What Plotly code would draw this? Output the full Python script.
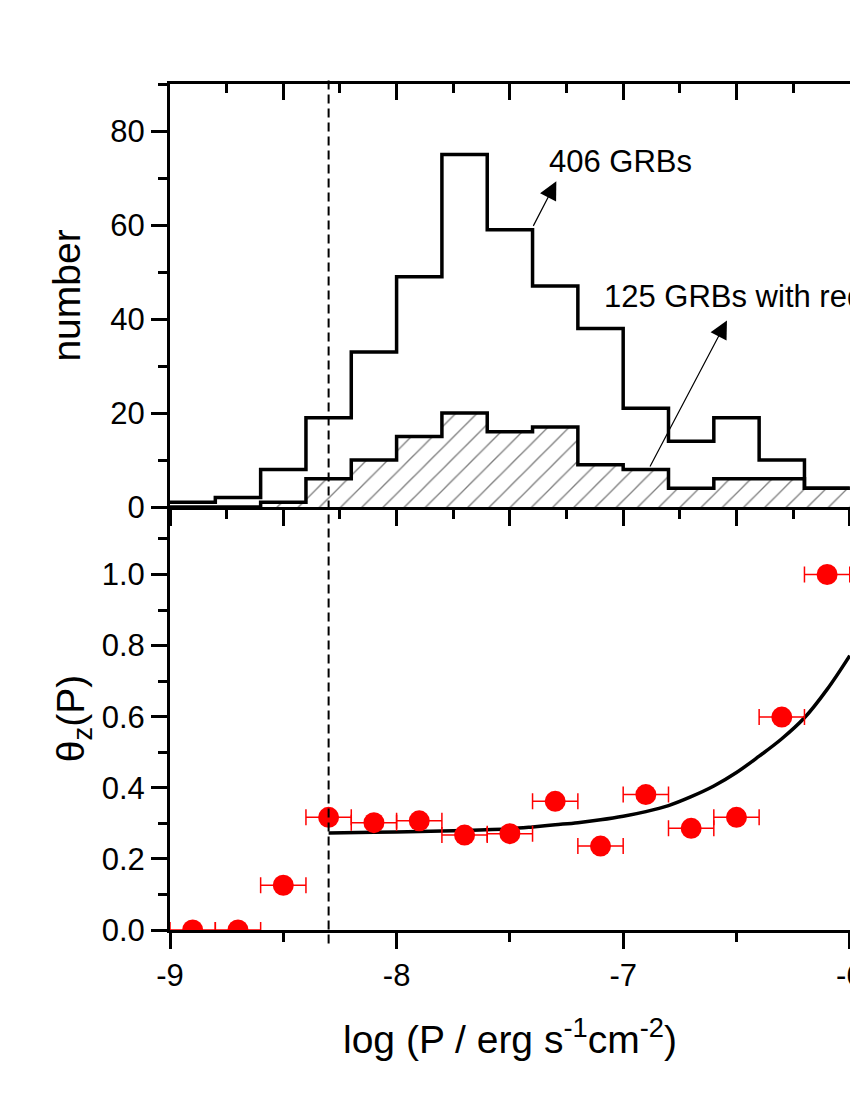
import plotly.graph_objects as go

# histogram of log peak flux, bins of 0.2 dex (left edges)
bin_left = [-9.0, -8.8, -8.6, -8.4, -8.2, -8.0, -7.8, -7.6, -7.4, -7.2, -7.0, -6.8, -6.6, -6.4, -6.2]
bin_last_edge = -6.0
n_all = [1, 2, 8, 19, 33, 49, 75, 59, 47, 38, 21, 14, 19, 10, 4]      # 406 GRBs
n_redshift = [0, 0, 1, 6, 10, 15, 20, 16, 17, 9, 8, 4, 6, 6, 4]      # 125 GRBs with redshift

# theta_z(P) points
theta_x = [-8.9, -8.7, -8.5, -8.3, -8.1, -7.9, -7.7, -7.5, -7.3, -7.1, -6.9, -6.7, -6.5, -6.3, -6.1]
theta_y = [0.0, 0.0, 0.126, 0.317, 0.302, 0.307, 0.267, 0.271, 0.362, 0.236, 0.381, 0.286, 0.317, 0.599, 1.0]
theta_xerr = 0.1

# fitted curve
fit_x = [-8.3, -8.1, -7.9, -7.7, -7.5, -7.4, -7.3, -7.2, -7.1, -7.0, -6.9, -6.8, -6.7,
         -6.6, -6.5, -6.4, -6.3, -6.2, -6.1, -6.0]
fit_y = [0.273, 0.275, 0.277, 0.280, 0.285, 0.290, 0.296, 0.302, 0.310, 0.320, 0.333, 0.350, 0.375,
         0.405, 0.443, 0.489, 0.538, 0.597, 0.677, 0.772]

# bottom tick labels (plain hyphen like the original)
x_tickvals = [-9, -8, -7, -6]
x_ticktext = ["-9", "-8", "-7", "-6"]

p_cut = -8.3

FONT = "Liberation Sans, Arial, sans-serif"
tick_font = dict(family=FONT, size=31, color="black")
title_font = dict(family=FONT, size=39, color="black")

step_x = bin_left + [bin_last_edge]

fig = go.Figure()

# hatched histogram (with redshift)
fig.add_trace(go.Scatter(
    x=step_x, y=n_redshift + [n_redshift[-1]],
    mode="lines", line_shape="hv",
    line=dict(color="black", width=3.5),
    fill="tozeroy",
    fillpattern=dict(shape="/", fgcolor="black", bgcolor="white", size=15, solidity=0.09),
    xaxis="x", yaxis="y", hoverinfo="skip",
))

# all GRBs
fig.add_trace(go.Scatter(
    x=step_x, y=n_all + [n_all[-1]],
    mode="lines", line_shape="hv",
    line=dict(color="black", width=3.5),
    xaxis="x3", yaxis="y", hoverinfo="skip",
))

# fit curve
fig.add_trace(go.Scatter(
    x=fit_x, y=fit_y, mode="lines", line_shape="spline",
    line=dict(color="black", width=3.5),
    xaxis="x2", yaxis="y2",
))

# data points
fig.add_trace(go.Scatter(
    x=theta_x, y=theta_y, mode="markers",
    marker=dict(color="#ff0000", size=21, symbol="circle"),
    error_x=dict(type="constant", value=theta_xerr, color="#ff0000", thickness=1.5, width=8),
    xaxis="x2", yaxis="y2",
))

x_range = [-9, -5.999]
axis_common = dict(showgrid=False, zeroline=False, showline=True, linewidth=3, linecolor="black",
                   tickcolor="black", tickwidth=2.5, tickfont=tick_font, automargin=False)

fig.update_layout(
    width=850, height=1100,
    margin=dict(l=170, r=0, t=84, b=170, autoexpand=False),
    paper_bgcolor="white", plot_bgcolor="white",
    showlegend=False,
    xaxis=dict(axis_common, range=x_range, anchor="y", domain=[0, 1],
               ticks="outside", tick0=0, dtick=0.5, ticklen=16, showticklabels=False,
               minor=dict(ticks="outside", dtick=0.25, ticklen=9, tickwidth=2.5, tickcolor="black")),
    xaxis3=dict(axis_common, range=x_range, anchor="y", overlaying="x", side="top",
                ticks="inside", tick0=0, dtick=0.5, ticklen=16, showticklabels=False,
                minor=dict(ticks="inside", dtick=0.25, ticklen=9, tickwidth=2.5, tickcolor="black")),
    xaxis2=dict(axis_common, range=x_range, anchor="y2", domain=[0, 1],
                ticks="outside", tickvals=x_tickvals, ticktext=x_ticktext, ticklen=16,
                ticklabeloverflow="allow",
                minor=dict(ticks="outside", tick0=0, dtick=0.5, ticklen=9, tickwidth=2.5, tickcolor="black"),
                title=dict(text="log (P / erg s<sup>-1</sup>cm<sup>-2</sup>)", font=title_font, standoff=34)),
    yaxis=dict(axis_common, range=[0, 90], domain=[0.5, 1], anchor="x",
               ticks="outside", tick0=0, dtick=20, ticklen=16,
               minor=dict(ticks="outside", dtick=10, ticklen=9, tickwidth=2.5, tickcolor="black"),
               title=dict(text="number", font=title_font, standoff=18)),
    yaxis2=dict(axis_common, range=[0, 1.19], domain=[0, 0.5], anchor="x2",
                ticks="outside", tick0=0, dtick=0.2, tickformat=".1f", ticklen=16,
                minor=dict(ticks="outside", dtick=0.1, ticklen=9, tickwidth=2.5, tickcolor="black"),
                title=dict(text="θ<sub>z</sub>(P)", font=title_font, standoff=6)),
)

# flux cut
fig.add_shape(type="line", xref="x", yref="paper", x0=p_cut, x1=p_cut, y0=-0.016, y1=1.004,
              line=dict(color="black", width=2, dash="9px,5px"))

# labels with arrows
fig.add_annotation(x=-7.295, y=69.3, ax=-7.40, ay=59.5, xref="x", yref="y", axref="x", ayref="y",
                   text="", showarrow=True, arrowhead=2, arrowsize=3, arrowwidth=1.2, arrowcolor="black")
fig.add_annotation(x=-7.335, y=73.6, xref="x", yref="y", text="406 GRBs", showarrow=False,
                   xanchor="left", yanchor="middle", font=tick_font)
fig.add_annotation(x=-6.542, y=39.7, ax=-6.885, ay=8.3, xref="x", yref="y", axref="x", ayref="y",
                   text="", showarrow=True, arrowhead=2, arrowsize=3, arrowwidth=1.2, arrowcolor="black")
fig.add_annotation(x=-7.093, y=44.8, xref="x", yref="y", text="125 GRBs with redshift", showarrow=False,
                   xanchor="left", yanchor="middle", font=tick_font)

# drop the default body margin so the 850x1100 figure fills the window exactly
fig.write_html("out.html", config={"displayModeBar": False},
               post_script="document.body.style.margin='0';document.body.style.overflow='hidden';")
